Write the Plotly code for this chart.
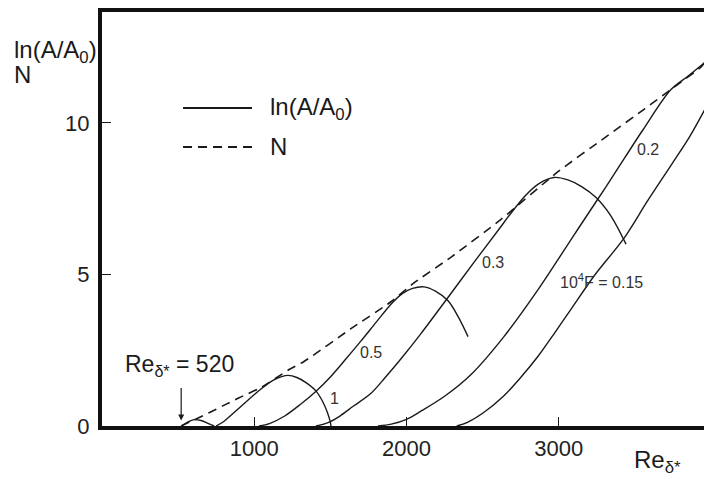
import plotly.graph_objects as go

# ---------------- data ----------------
# envelope N (dashed)
re_env = [520, 604, 700, 800, 900, 1044, 1222, 1327, 1635, 1898, 2049, 2300, 2621, 2995, 3310, 3560, 3757, 3934, 3960]
n_env = [0, 0.2, 0.43, 0.68, 0.93, 1.27, 1.84, 2.13, 3.21, 4.1, 4.72, 5.6, 6.82, 8.39, 9.54, 10.45, 11.18, 11.84, 12.0]

# ln(A/A0) curves for several frequencies 10^4 F
re_hump = [520, 560, 604, 650, 700, 736]
ln_hump = [0, 0.12, 0.21, 0.18, 0.08, 0]

re_f1 = [749, 800, 880, 960, 1044, 1120, 1180, 1222, 1280, 1340, 1406, 1450, 1480, 1500, 1504]
ln_f1 = [0, 0.15, 0.5, 0.86, 1.22, 1.5, 1.63, 1.67, 1.6, 1.43, 1.15, 0.8, 0.45, 0.12, 0]

re_f05 = [1031, 1100, 1200, 1300, 1406, 1500, 1600, 1700, 1800, 1898, 1970, 2040, 2115, 2190, 2273, 2340, 2404]
ln_f05 = [0, 0.08, 0.33, 0.7, 1.15, 1.62, 2.2, 2.8, 3.42, 4.02, 4.36, 4.54, 4.59, 4.45, 4.13, 3.6, 2.95]

re_f03 = [1405, 1480, 1560, 1650, 1767, 1860, 1964, 2095, 2259, 2443, 2601, 2686, 2780, 2870, 2969, 3060, 3150, 3245, 3340, 3442]
ln_f03 = [0, 0.1, 0.32, 0.65, 1.08, 1.6, 2.22, 3.05, 4.15, 5.4, 6.45, 7.02, 7.6, 8.0, 8.2, 8.12, 7.9, 7.54, 6.95, 6.0]

re_f02 = [1813, 1900, 2000, 2095, 2250, 2424, 2640, 2864, 3100, 3232, 3363, 3550, 3737, 3850, 3960]
ln_f02 = [0, 0.06, 0.22, 0.49, 0.98, 1.7, 2.95, 4.5, 6.3, 7.3, 8.3, 9.75, 11.1, 11.55, 12.0]

re_f015 = [2330, 2400, 2500, 2640, 2750, 2864, 2970, 3080, 3232, 3429, 3580, 3737, 3860, 3960]
ln_f015 = [0, 0.12, 0.42, 1.0, 1.6, 2.3, 3.05, 3.85, 4.95, 6.2, 7.4, 8.6, 9.55, 10.45]

x_ticks = [1000, 2000, 3000]
y_ticks = [0, 5, 10]

curve_labels = ["1", "0.5", "0.3", "0.2", "10<sup>4</sup>F = 0.15"]
label_re = [1524, 1767, 2568, 3586, 3284]
label_n = [0.92, 2.43, 5.41, 9.11, 4.79]

# ---------------- figure ----------------
INK = "#1a1a1a"
FONT = "Liberation Sans, Arial, sans-serif"

fig = go.Figure()

solid_sets = [(re_hump, ln_hump), (re_f1, ln_f1), (re_f05, ln_f05),
              (re_f03, ln_f03), (re_f02, ln_f02), (re_f015, ln_f015)]
for xs, ys in solid_sets:
    fig.add_trace(go.Scatter(x=xs, y=ys, mode="lines", name="ln(A/A0)",
                             line=dict(color=INK, width=1.4, shape="spline", smoothing=0.9),
                             showlegend=False, hoverinfo="skip"))

fig.add_trace(go.Scatter(x=re_env, y=n_env, mode="lines", name="N",
                         line=dict(color=INK, width=1.6, dash="9px,6px", shape="spline", smoothing=0.6),
                         showlegend=False, hoverinfo="skip"))

annotations = []
for t, xv, yv in zip(curve_labels, label_re, label_n):
    annotations.append(dict(x=xv, y=yv, xref="x", yref="y", text=t, showarrow=False,
                            font=dict(family=FONT, size=16, color="#333")))

# Re = 520 marker
annotations.append(dict(x=520, y=0.18, xref="x", yref="y", text="", showarrow=True,
                        ax=0, ay=-34, arrowhead=2, arrowsize=1, arrowwidth=1.2, arrowcolor=INK))
annotations.append(dict(x=138, y=2.0, xref="x", yref="y", xanchor="left", yanchor="middle",
                        text="Re<sub>δ*</sub> = 520", showarrow=False,
                        font=dict(family=FONT, size=23, color=INK)))

# axis titles
annotations.append(dict(x=0.880, y=-0.085, xref="paper", yref="paper", xanchor="left", yanchor="middle",
                        text="Re<sub>δ*</sub>", showarrow=False,
                        font=dict(family=FONT, size=24, color=INK)))
annotations.append(dict(x=-0.1495, y=0.905, xref="paper", yref="paper", xanchor="left", yanchor="middle",
                        text="ln(A/A<sub>0</sub>)", showarrow=False,
                        font=dict(family=FONT, size=24, color=INK)))
annotations.append(dict(x=-0.1495, y=0.85, xref="paper", yref="paper", xanchor="left", yanchor="middle",
                        text="N", showarrow=False,
                        font=dict(family=FONT, size=24, color=INK)))

# key
annotations.append(dict(x=0.2757, y=0.768, xref="paper", yref="paper", xanchor="left", yanchor="middle",
                        text="ln(A/A<sub>0</sub>)", showarrow=False,
                        font=dict(family=FONT, size=24, color=INK)))
annotations.append(dict(x=0.2757, y=0.674, xref="paper", yref="paper", xanchor="left", yanchor="middle",
                        text="N", showarrow=False,
                        font=dict(family=FONT, size=24, color=INK)))
shapes = [
    dict(type="line", xref="paper", yref="paper", x0=0.1346, x1=0.2492, y0=0.768, y1=0.768,
         line=dict(color=INK, width=2)),
    dict(type="line", xref="paper", yref="paper", x0=0.1346, x1=0.2492, y0=0.674, y1=0.674,
         line=dict(color=INK, width=2, dash="9px,6px")),
]

fig.update_layout(
    width=704, height=479,
    margin=dict(l=102, r=0, t=12, b=53),
    plot_bgcolor="white", paper_bgcolor="white",
    showlegend=False,
    font=dict(family=FONT, color=INK),
    annotations=annotations, shapes=shapes,
    xaxis=dict(range=[0, 3954], tickvals=x_ticks, ticks="inside", ticklen=9, tickwidth=1.2,
               tickcolor=INK, showline=True, linewidth=4, linecolor="#111", mirror=True,
               showgrid=False, zeroline=False, tickfont=dict(family=FONT, size=22, color="#222")),
    yaxis=dict(range=[0, 13.66], tickvals=y_ticks, ticks="inside", ticklen=9, tickwidth=1.2,
               tickcolor=INK, showline=True, linewidth=4, linecolor="#111", mirror=False,
               ticklabelstandoff=4,
               showgrid=False, zeroline=False, tickfont=dict(family=FONT, size=22, color="#222")),
)

fig.write_html("out.html")
